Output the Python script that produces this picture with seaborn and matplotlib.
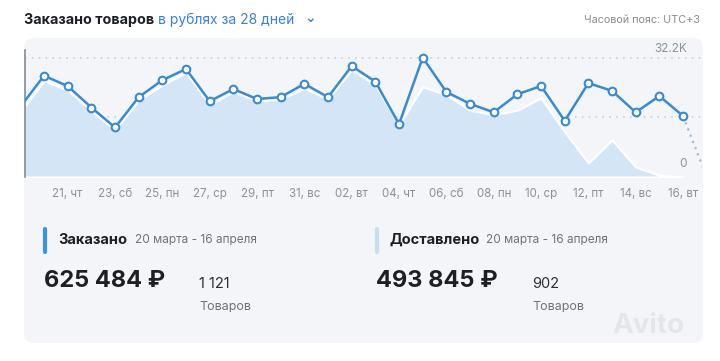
import numpy as np
import pandas as pd
import matplotlib.pyplot as plt
import matplotlib.transforms as mtransforms
from matplotlib.patches import FancyBboxPatch
import seaborn as sns

# --- данные (Mar 19 ... Apr 16, 2024), тыс. руб. в день ---
days = ['19', '20', '21', '22', '23', '24', '25', '26', '27', '28', '29', '30', '31',
        '01', '02', '03', '04', '05', '06', '07', '08', '09', '10', '11', '12', '13',
        '14', '15', '16']
weekdays = ['вт', 'ср', 'чт', 'пт', 'сб', 'вс', 'пн', 'вт', 'ср', 'чт', 'пт', 'сб', 'вс',
            'пн', 'вт', 'ср', 'чт', 'пт', 'сб', 'вс', 'пн', 'вт', 'ср', 'чт', 'пт', 'сб',
            'вс', 'пн', 'вт']
ordered = [19000, 27400, 24600, 18800, 13400, 21600, 26200, 29200, 20500, 23800, 21100,
           21600, 25200, 21600, 30000, 25800, 14300, 32300, 23000, 19800, 17500, 22400,
           24600, 15200, 25400, 23300, 17500, 21900, 16500]
delivered = [17500, 26000, 23500, 17900, 12700, 20800, 24900, 28300, 19500, 23100, 20600,
             21100, 24000, 21100, 29000, 24900, 14100, 24400, 22200, 18100, 16800, 18100,
             21400, 12200, 3800, 10000, 2700, 500, 0]
next_day_value = 0  # Apr 17, day not finished
y_max = 32200

BLUE = '#3a8ad0'
LIGHT = '#d3e5f7'
GREY = '#8c9199'
DARK = '#1c1f24'

sns.set_theme(style='white')
plt.rcParams['font.family'] = ['Inter', 'DejaVu Sans']

W, H = 720, 361
fig = plt.figure(figsize=(W / 100, H / 100), dpi=100)
fig.patch.set_facecolor('white')


def fx(px):
    return px / W


def fy(py):
    return 1 - py / H


card = FancyBboxPatch((fx(24), fy(343)), fx(703) - fx(24), fy(38) - fy(343),
                      boxstyle='round,pad=0,rounding_size=0.014', mutation_aspect=2,
                      transform=fig.transFigure, facecolor='#f4f5f8', edgecolor='none',
                      zorder=-5)
fig.patches.append(card)

ax = fig.add_axes([fx(25), fy(177), fx(702) - fx(25), fy(38) - fy(177)])
ax.patch.set_alpha(0)

df = pd.DataFrame({'pos': np.arange(len(days)) - 1, 'ordered': ordered,
                   'delivered': delivered})
tail = pd.DataFrame({'pos': [df['pos'].iloc[-1], df['pos'].iloc[-1] + 1],
                     'value': [ordered[-1], next_day_value]})

ax.fill_between(df['pos'], df['delivered'], color=LIGHT, edgecolor='white',
                linewidth=1.5, zorder=1)

for v in (y_max, y_max / 2):
    ax.axhline(v, color='#c3c8d0', lw=1.1, ls=(0, (1, 3.5)), zorder=0.5)

sns.lineplot(data=tail, x='pos', y='value', ax=ax, color='#a7b9cd', lw=1.6,
             ls=(0, (1, 2)), zorder=2)
sns.lineplot(data=df, x='pos', y='ordered', ax=ax, color=BLUE, lw=1.8,
             marker='o', markersize=5.5, markerfacecolor='white',
             markeredgecolor=BLUE, markeredgewidth=1.5, zorder=3)

ax.set_xlim(-0.803, 27.8)
ax.set_ylim(0, 37600)
for s in ('top', 'right', 'bottom'):
    ax.spines[s].set_visible(False)
ax.spines['left'].set_color('#868c95')
ax.spines['left'].set_linewidth(1.2)
ax.spines['left'].set_bounds(0, 34300)

tick_idx = list(range(2, len(days), 2))
ax.set_xticks(df['pos'].iloc[tick_idx])
ax.set_xticklabels([f'{days[i]}, {weekdays[i]}' for i in tick_idx])
ax.tick_params(axis='x', length=0, pad=8, labelsize=8.3, labelcolor=GREY)
ax.set_yticks([])
ax.set_xlabel('')
ax.set_ylabel('')

blend = mtransforms.blended_transform_factory(ax.transAxes, ax.transData)
ax.annotate('32.2K', xy=(0.978, y_max), xycoords=blend, xytext=(0, 3),
            textcoords='offset pixels', ha='right', va='bottom', fontsize=8.5, color=GREY)
ax.annotate('0', xy=(0.978, 0), xycoords=blend, xytext=(0, 7),
            textcoords='offset pixels', ha='right', va='bottom', fontsize=8.5, color=GREY)

# --- заголовок ---
fig.text(fx(24), fy(20), 'Заказано товаров', fontsize=10.3, weight='bold',
         color=DARK, va='center')
fig.text(fx(158), fy(20), 'в рублях за 28 дней', fontsize=10, color='#3b7fd9', va='center')
fig.text(fx(304), fy(18), '⌄', fontsize=10, color='#3b7fd9', va='center',
         weight='bold', family=['DejaVu Sans'])
fig.text(fx(700), fy(20), 'Часовой пояс: UTC+3', fontsize=7.8, color='#8c8c8c',
         va='center', ha='right')

# --- итоги ---
blocks = [
    (45, '#3d93e0', 'Заказано', 135, '625 484 ₽', 199, '1 121'),
    (377, '#c7ddf3', 'Доставлено', 486, '493 845 ₽', 532, '902'),
]
for x0, bar_c, name, xd, total, xc, count in blocks:
    fig.lines.append(plt.Line2D([fx(x0), fx(x0)], [fy(229), fy(252)], lw=3,
                                color=bar_c, transform=fig.transFigure,
                                solid_capstyle='round'))
    fig.text(fx(x0 + 13), fy(240), name, fontsize=10.5, weight='bold', color=DARK,
             va='center')
    fig.text(fx(xd), fy(240), '20 марта - 16 апреля', fontsize=8.5, color='#6e737a',
             va='center')
    fig.text(fx(x0 - 1), fy(281), total, fontsize=17, weight='bold', color=DARK,
             va='center')
    fig.text(fx(xc), fy(284), count, fontsize=10.5, color='#2b2f35', va='center')
    fig.text(fx(xc), fy(307), 'Товаров', fontsize=9, color='#6e737a', va='center')

fig.text(fx(612), fy(326), 'Avito', fontsize=20, color='#e3e6ea', va='center',
         weight='bold')

fig.savefig('out.png', dpi=100)
